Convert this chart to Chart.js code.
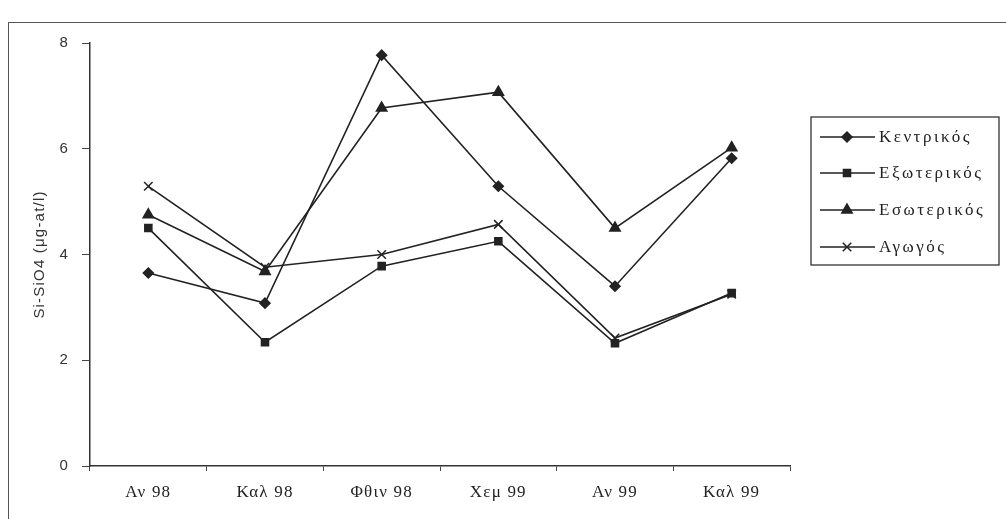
<!DOCTYPE html>
<html>
<head>
<meta charset="utf-8">
<script src="https://cdn.jsdelivr.net/npm/chart.js@4/dist/chart.umd.min.js"></script>
<style>
  html, body { margin:0; padding:0; background:#fff; }
  #wrap { position:relative; width:1006px; height:519px; overflow:hidden; }
  #frame { position:absolute; left:8px; top:22px; width:1000px; height:520px; border-left:1.5px solid #555; border-top:1.5px solid #555; box-sizing:border-box; }
  canvas { position:absolute; left:0; top:0; }
</style>
</head>
<body>
<div id="wrap">
  <div id="frame"></div>
  <canvas id="c" width="1006" height="519"></canvas>
</div>
<script>
const categories = ["Αν 98", "Καλ 98", "Φθιν 98", "Χεμ 99", "Αν 99", "Καλ 99"];
const kentrikos  = [3.65, 3.08, 7.77, 5.29, 3.40, 5.82];
const exoterikos = [4.50, 2.34, 3.78, 4.25, 2.32, 3.27];
const esoterikos = [4.75, 3.68, 6.77, 7.07, 4.50, 6.02];
const agogos     = [5.29, 3.76, 4.00, 4.57, 2.42, 3.25];
const seriesNames = ["Κεντρικός", "Εξωτερικός", "Εσωτερικός", "Αγωγός"];
const yTicks = [0, 2, 4, 6, 8];

const ink = "#222";
function ds(label, data, style, radius) {
  return {
    label, data,
    borderColor: ink, backgroundColor: ink, borderWidth: 1.6,
    pointStyle: style, pointRadius: radius, pointHoverRadius: radius,
    pointBorderColor: ink, pointBackgroundColor: ink, pointBorderWidth: 1.5,
    tension: 0, fill: false
  };
}

const spacingPlugin = {
  id: 'axisSpacing',
  beforeDraw(chart) { chart.ctx.letterSpacing = "1.2px"; },
  beforeDatasetsDraw(chart) { chart.ctx.letterSpacing = "0px"; }
};

const legendPlugin = {
  id: 'customLegend',
  afterDraw(chart) {
    const ctx = chart.ctx;
    const box = { x: 811, y: 117, w: 188, h: 148 };
    ctx.save();
    ctx.strokeStyle = "#333";
    ctx.lineWidth = 1.3;
    ctx.strokeRect(box.x, box.y, box.w, box.h);
    const rows = [137, 173, 210, 247];
    ctx.font = "17px 'Liberation Serif', 'DejaVu Serif', serif";
    ctx.textBaseline = "middle";
    chart.data.datasets.forEach((d, i) => {
      const y = rows[i];
      ctx.strokeStyle = ink; ctx.lineWidth = 1.6;
      ctx.beginPath(); ctx.moveTo(820, y); ctx.lineTo(875, y); ctx.stroke();
      ctx.fillStyle = ink; ctx.strokeStyle = ink; ctx.lineWidth = 1.5;
      Chart.helpers.drawPoint(ctx, { pointStyle: d.pointStyle, radius: d.pointRadius, borderWidth: 1.5, rotation: 0 }, 847, y);
      ctx.fillStyle = ink;
      ctx.letterSpacing = "2.5px";
      ctx.fillText(d.label, 879, y + 1);
      ctx.letterSpacing = "0px";
    });
    ctx.restore();
  }
};

new Chart(document.getElementById('c'), {
  type: 'line',
  data: {
    labels: categories,
    datasets: [
      ds(seriesNames[0], kentrikos, 'rectRot', 5),
      ds(seriesNames[1], exoterikos, 'rect', 5),
      ds(seriesNames[2], esoterikos, 'triangle', 6),
      ds(seriesNames[3], agogos, 'crossRot', 6)
    ]
  },
  options: {
    responsive: false,
    animation: false,
    layout: { padding: { top: 43, right: 216, left: 0, bottom: 0 } },
    plugins: { legend: { display: false }, tooltip: { enabled: false } },
    scales: {
      x: {
        offset: true,
        grid: { offset: true, drawOnChartArea: false, drawTicks: true, tickLength: 5, color: "#444", tickColor: "#444" },
        border: { color: "#333", width: 1.5 },
        ticks: { color: ink, padding: 11, font: { family: "'Liberation Serif', serif", size: 17 } },
        afterFit(s) { s.height = 53; }
      },
      y: {
        min: 0, max: 8,
        afterBuildTicks(s) { s.ticks = yTicks.map(v => ({ value: v })); },
        grid: { drawOnChartArea: false, drawTicks: true, tickLength: 8, color: "#444", tickColor: "#444" },
        border: { color: "#333", width: 1.5 },
        ticks: { color: "#333", padding: 13, font: { family: "'Liberation Sans', Arial, sans-serif", size: 15 } },
        title: { display: true, text: "Si-SiO4 (μg-at/l)", color: "#333", padding: { top: 31, bottom: 0 }, font: { family: "'Liberation Sans', Arial, sans-serif", size: 15 } },
        afterFit(s) { s.width = 90; }
      }
    }
  },
  plugins: [spacingPlugin, legendPlugin]
});
</script>
</body>
</html>
